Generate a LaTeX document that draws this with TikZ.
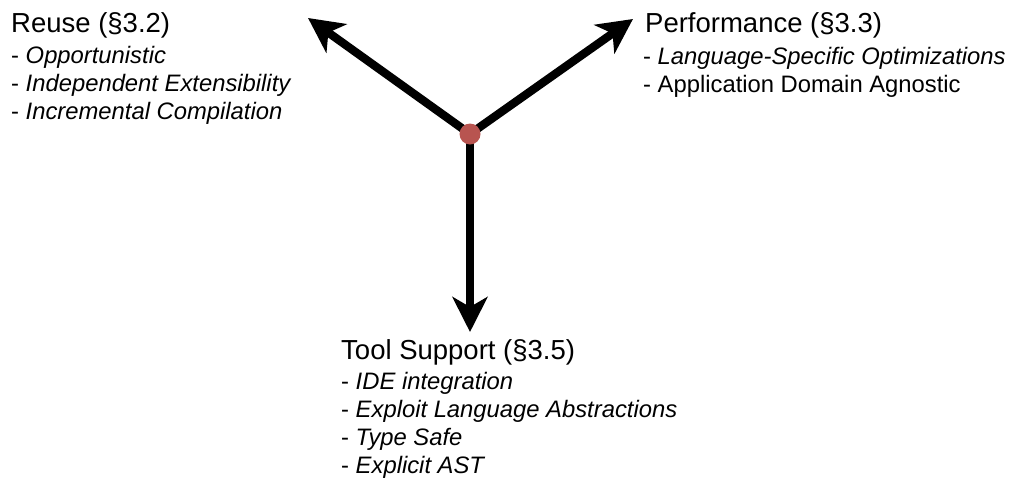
\documentclass[tikz,border=0pt]{standalone}
\usepackage{fontspec}
\setmainfont{Liberation Sans}
\usetikzlibrary{arrows.meta,backgrounds}

\definecolor{hubred}{HTML}{B85450}

\begin{document}
\begin{tikzpicture}[x=1pt,y=-1pt,
    heading/.style={anchor=base west, inner sep=0pt, font=\fontsize{27.5}{33}\selectfont},
    itemlist/.style={anchor=base west, inner sep=0pt, align=left, font=\fontsize{23.8}{28}\selectfont},
    spoke/.style={line width=8.3pt, -{Stealth[length=35pt,width=35pt,inset=10pt]}}]
            \useasboundingbox (0,0) rectangle (1014,485);

            \node[circle, fill=hubred, minimum size=21pt, inner sep=0pt] (hub) at (470,134) {};
            \coordinate (reuseTip) at (308,18);
            \coordinate (perfTip) at (633,19);
            \coordinate (toolTip) at (470,332);

            % list nodes sit on the baseline of their last line
            \node[heading] (reuse) at (11,32) {Reuse (\S3.2)};
            \node[itemlist] (reuseList) at (11,119) {- \textit{Opportunistic}\\- \textit{Independent Extensibility}\\- \textit{Incremental Compilation}};

            \node[heading] (perf) at (645,32) {Performance (\S3.3)};
            \node[itemlist] (perfList) at (643,92) {- \textit{Language-Specific Optimizations}\\- Application Domain Agnostic};

            \node[heading] (tool) at (341,359) {Tool Support (\S3.5)};
            \node[itemlist] (toolList) at (341,473) {- \textit{IDE integration}\\- \textit{Exploit Language Abstractions}\\- \textit{Type Safe}\\- \textit{Explicit AST}};

            \begin{scope}[on background layer]
            \draw[spoke] (hub.center) -- (reuseTip);
            \draw[spoke] (hub.center) -- (perfTip);
            \draw[spoke] (hub.center) -- (toolTip);
            \end{scope}
        \end{tikzpicture}
\end{document}
